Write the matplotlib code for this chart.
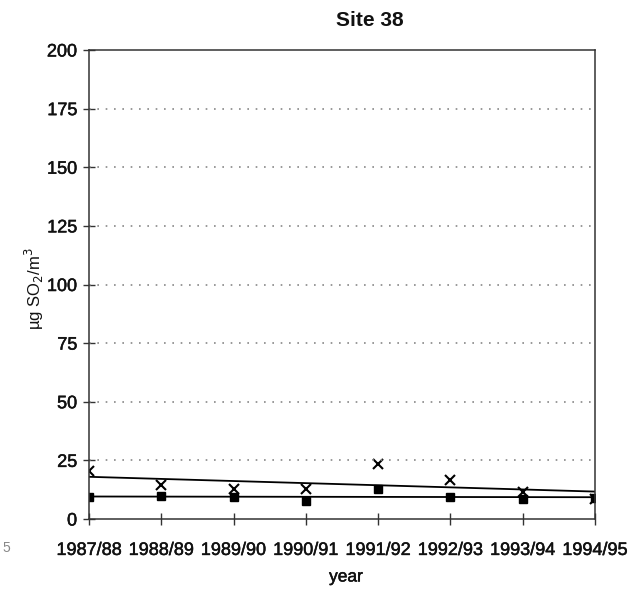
import matplotlib.pyplot as plt
import matplotlib.patheffects as pe

years = ['1987/88', '1988/89', '1989/90', '1990/91', '1991/92', '1992/93', '1993/94', '1994/95']
smoke = [20.3, 14.4, 12.7, 12.7, 23.3, 16.5, 11.4, 8.5]   # crosses
so2 = [9.6, 9.9, 9.2, 7.6, 12.8, 9.6, 8.6, 9.0]           # squares
smoke_trend = [18.0, 11.7]   # trend line values at first and last year
so2_trend = [9.6, 9.3]
y_ticks = [0, 25, 50, 75, 100, 125, 150, 175, 200]

plt.rcParams['font.family'] = ['Liberation Sans', 'DejaVu Sans']
thick = [pe.withStroke(linewidth=0.35, foreground='#111111')]  # scanned text looks a bit heavier

fig = plt.figure(figsize=(6.42, 5.91), dpi=100)
ax = fig.add_axes([0.1386, 0.1218, 0.7882, 0.7936])

x = list(range(len(years)))
ax.plot([x[0], x[-1]], smoke_trend, color='black', lw=1.3)
ax.plot([x[0], x[-1]], so2_trend, color='black', lw=1.3)
ax.plot(x, smoke, ls='none', marker='x', color='black', ms=6.5, mew=1.5)
ax.plot(x, so2, ls='none', marker='s', color='black', ms=6)

ax.set_xlim(0, len(years) - 1)
ax.set_ylim(0, 200)
ax.set_xticks(x)
ax.set_xticklabels(years, fontsize=13, color='#111111', path_effects=thick)
ax.set_yticks(y_ticks)
ax.set_yticklabels(y_ticks, fontsize=13, color='#111111', path_effects=thick)
ax.tick_params(axis='both', direction='inout', length=9, width=1, color='#333333')
ax.tick_params(axis='x', pad=12)
ax.tick_params(axis='y', pad=4)

for v in y_ticks[1:-1]:
    ax.axhline(v, color='#888888', ls=(0, (1, 4)), lw=1.2)

for s in ax.spines.values():
    s.set_color('#333333')
    s.set_linewidth(1.1)

fig.text(370 / 642, 1 - 20 / 591, 'Site 38', ha='center', va='center', fontsize=15,
         fontweight='bold', color='#111111')
fig.text(346 / 642, 1 - 577 / 591, 'year', ha='center', va='center', fontsize=12.5,
         color='#111111', path_effects=thick)
fig.text(34 / 642, 1 - 289 / 591, 'µg SO$_2$/m$^3$', ha='center', va='center', rotation=90,
         fontsize=12, color='#111111')
fig.text(2 / 642, 1 - 548 / 591, '5', ha='left', va='center', fontsize=10, color='#888888')

fig.savefig('out.png', dpi=100)
